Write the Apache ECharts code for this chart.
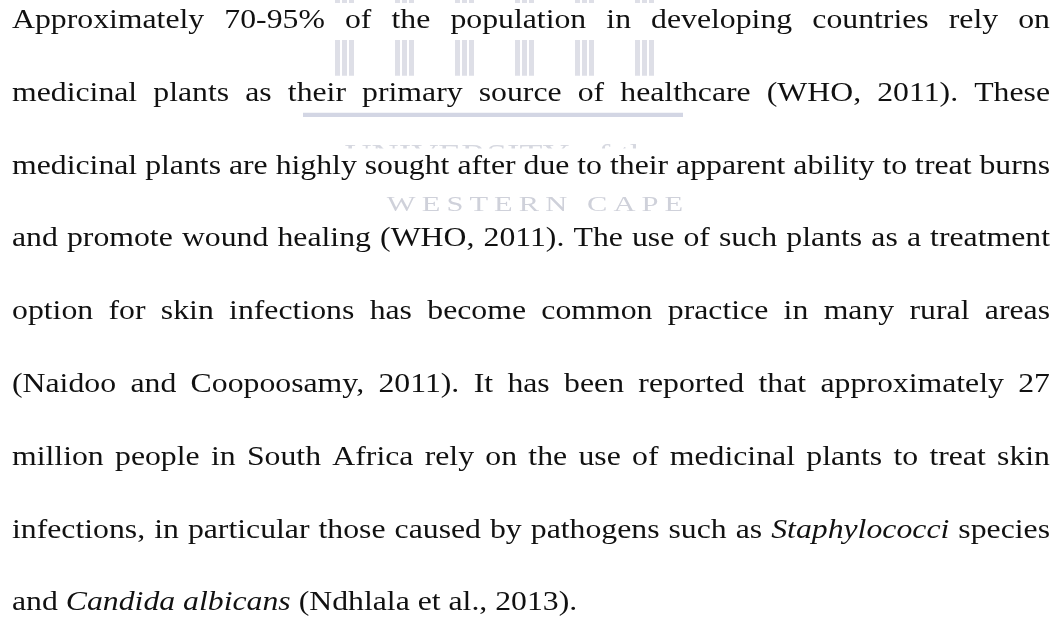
<!DOCTYPE html>
<html><head><meta charset="utf-8">
<script src="https://cdn.jsdelivr.net/npm/echarts@6/dist/echarts.min.js"></script>
<style>html,body{margin:0;padding:0;background:#fff}#c{width:1061px;height:626px}</style>
</head><body><div id="c"></div>
<script>
// ---- content ----
const lines = [
  "Approximately 70-95% of the population in developing countries rely on",
  "medicinal plants as their primary source of healthcare (WHO, 2011). These",
  "medicinal plants are highly sought after due to their apparent ability to treat burns",
  "and promote wound healing (WHO, 2011). The use of such plants as a treatment",
  "option for skin infections has become common practice in many rural areas",
  "(Naidoo and Coopoosamy, 2011). It has been reported that approximately 27",
  "million people in South Africa rely on the use of medicinal plants to treat skin",
  "infections, in particular those caused by pathogens such as *Staphylococci* species",
  "and *Candida albicans* (Ndhlala et al., 2013)."
];
const justifiedFlags = [true, true, true, true, true, true, true, true, false];
const watermarkUpper = "UNIVERSITY of the";
const watermarkLower = "WESTERN CAPE";
const watermarkBarGroups = [335, 395, 455, 515, 575, 635];

// ---- layout ----
const FS = 27, FAMILY = '"Liberation Serif", "Times New Roman", serif';
const SX = 1.176, LEFT = 12, RIGHT = 1050;
const BASE0 = 30, STEP = 72.8;
const W = (RIGHT - LEFT) / SX;
const ctx = document.createElement('canvas').getContext('2d');
function measure(t, it) { ctx.font = (it ? 'italic ' : '') + FS + 'px ' + FAMILY; return ctx.measureText(t).width; }
const spaceW = measure(' ', false);

const textEls = [];
const bands = [];
lines.forEach((ln, i) => {
  const base = BASE0 + STEP * i;
  let ital = false;
  const words = ln.split(' ').map(w => {
    let s = w, endIt = false;
    if (s.startsWith('*')) { s = s.slice(1); ital = true; }
    const wIt = ital;
    if (s.endsWith('*')) { s = s.slice(0, -1); endIt = true; }
    const o = { t: s, it: wIt, w: measure(s, wIt) };
    if (endIt) ital = false;
    return o;
  });
  const sum = words.reduce((a, b) => a + b.w, 0);
  const gap = justifiedFlags[i] ? (W - sum) / (words.length - 1) : spaceW;
  let x = 0;
  words.forEach(wd => {
    textEls.push({
      type: 'text', x: x, y: base - 0.34 * FS, silent: true, z: 5,
      style: { text: wd.t, fontSize: FS, fontFamily: FAMILY, fontStyle: wd.it ? 'italic' : 'normal',
               fill: '#111', verticalAlign: 'middle', align: 'left' }
    });
    x += wd.w + gap;
  });
  bands.push({ type: 'rect', silent: true, z: 1,
    shape: { x: 0, y: base - 27, width: 1061, height: 37 }, style: { fill: '#fff' } });
});

const wm = [];
watermarkBarGroups.forEach(gx => {
  [0, 7, 14].forEach(dx => {
    wm.push({ type: 'rect', silent: true, z: 0,
      shape: { x: gx + dx, y: 0, width: 5, height: 78 }, style: { fill: '#dedfe7' } });
  });
});
wm.push({ type: 'rect', silent: true, z: 0, shape: { x: 303, y: 112, width: 380, height: 5 }, style: { fill: '#d3d6e4' } });
wm.push({ type: 'text', silent: true, z: 0, x: 505, y: 156, scaleX: 1.34,
  style: { text: watermarkUpper, fontSize: 28, fontFamily: FAMILY, fill: '#d6d8e0', align: 'center', verticalAlign: 'middle' } });
wm.push({ type: 'text', silent: true, z: 0, x: 535, y: 205, scaleX: 1.45,
  style: { text: watermarkLower.split('').join('\u2009'), fontSize: 21, fontFamily: FAMILY, fill: '#cfd1da', align: 'center', verticalAlign: 'middle' } });

const chart = echarts.init(document.getElementById('c'), null, { renderer: 'canvas' });
chart.setOption({
  backgroundColor: '#fff',
  animation: false,
  graphic: [
    ...wm,
    ...bands,
    { type: 'group', x: LEFT, y: 0, scaleX: SX, z: 5, children: textEls }
  ]
});
</script></body></html>
